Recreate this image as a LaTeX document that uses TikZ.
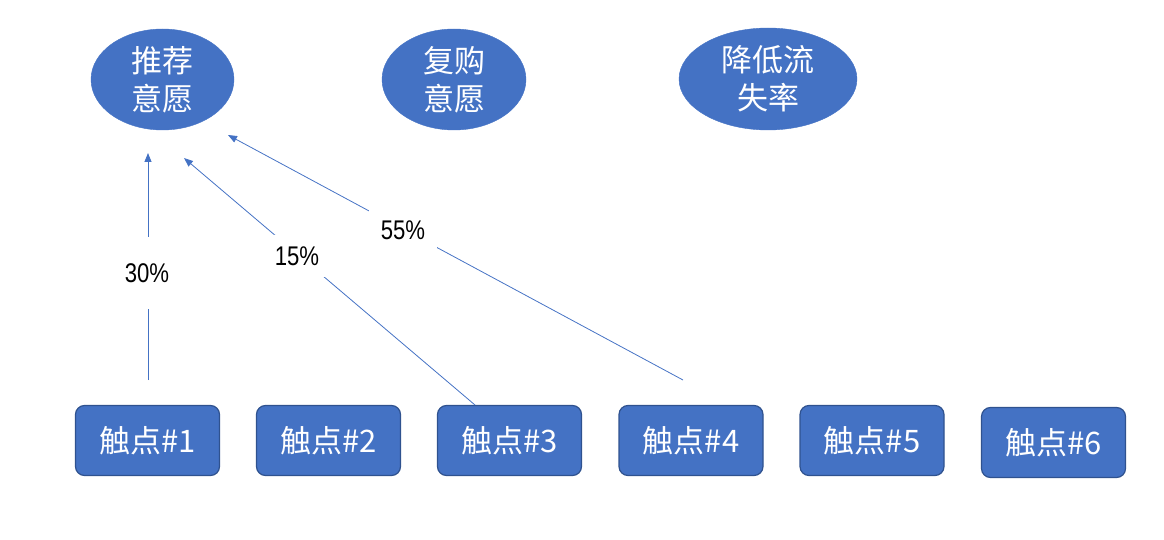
\documentclass[tikz,border=0pt]{standalone}
\usepackage{fontspec}
\setmainfont{Noto Sans CJK SC}
\newfontfamily\lblfont[FakeStretch=0.82]{Liberation Sans}
\usetikzlibrary{arrows.meta,shapes.geometric}
\definecolor{accent}{HTML}{4472C4}
\definecolor{accentdark}{HTML}{2F528F}
\tikzset{
  goal/.style={ellipse, fill=accent, draw=accent, text=white, inner sep=0pt,
    font=\fontsize{31}{38}\selectfont, align=center},
  touch/.style={rectangle, rounded corners=9pt, fill=accent, draw=accentdark, line width=1.2pt,
    minimum width=144pt, minimum height=70pt, text=white, font=\fontsize{31}{34}\selectfont},
  flow/.style={draw=accent, line width=0.8pt, -{Triangle[length=9pt,width=7pt]}},
  pct/.style={fill=white, text=black, font=\lblfont\fontsize{27}{30}\selectfont, inner sep=4pt}
}
\begin{document}
\begin{tikzpicture}[x=1pt,y=-1pt]
\useasboundingbox (0,0) rectangle (1164,540);
\node[goal, minimum width=143pt, minimum height=101pt] (g1) at (162.5,79.5) {推荐\\意愿};
\node[goal, minimum width=144pt, minimum height=101pt] (g2) at (454,79.5) {复购\\意愿};
\node[goal, minimum width=178pt, minimum height=102pt] (g3) at (768,79) {降低流\\失率};
\node[touch] (t1) at (147.5,440.5) {触点\#1};
\node[touch] (t2) at (328.5,440.5) {触点\#2};
\node[touch] (t3) at (509.5,440.5) {触点\#3};
\node[touch] (t4) at (691,440.5) {触点\#4};
\node[touch] (t5) at (872,440.5) {触点\#5};
\node[touch] (t6) at (1053.5,442.5) {触点\#6};
\coordinate (s1) at (148,380);
\coordinate (e1) at (148,153);
\coordinate (s3) at (475,405);
\coordinate (e3) at (184,158);
\coordinate (s4) at (683,380);
\coordinate (e4) at (228,135);
\draw[flow] (s1) -- (e1);
\draw[flow] (s3) -- (e3);
\draw[flow] (s4) -- (e4);
\node[pct, minimum height=72pt] (l1) at (147,273) {30\%};
\node[pct, inner xsep=8pt, inner ysep=12pt] (l3) at (297,256) {15\%};
\node[pct, inner xsep=12pt, inner ysep=12pt] (l4) at (403,230) {55\%};
\end{tikzpicture}
\end{document}
